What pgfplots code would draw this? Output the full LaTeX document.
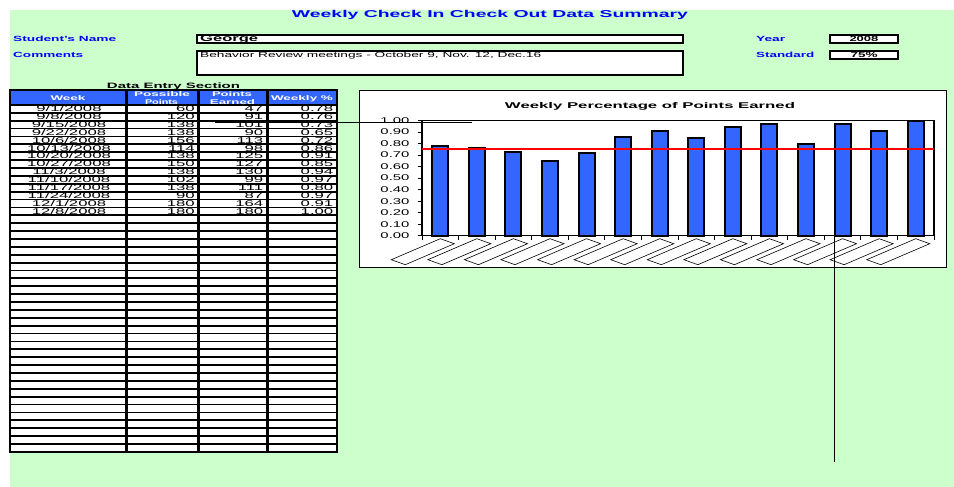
\documentclass[border=0pt]{standalone}
\usepackage{fontspec}
\setmainfont{Liberation Sans}
\usepackage{graphicx}
\usepackage{pgfplots}
\pgfplotsset{compat=1.18}
\definecolor{bg}{HTML}{CCFFCC}
\definecolor{xlblue}{HTML}{3366FF}
\definecolor{ttl}{HTML}{0000FF}
\definecolor{stdred}{HTML}{FF0000}
\newcommand\fitw[2]{\sbox0{#2}\pgfmathsetmacro\fitf{#1*1.00375/\the\wd0}\scalebox{\fitf}[1]{\usebox0}}
\newcommand\tb[1]{{\fontsize{8.4}{9}\selectfont\scalebox{2.0}[1]{#1}}}
\newcommand\pitch{7.886}
\newcommand\datarow[5]{%
  \pgfmathsetmacro\ya{104+#1*\pitch+1.8}%
  \pgfmathsetmacro\yb{104+(#1+1)*\pitch}%
  \pgfmathsetmacro\yc{104+(#1+1)*\pitch-0.3}%
  \begin{scope}
    \clip (10,\ya) rectangle (337,\yb);
    \node[anchor=base,inner sep=0] at (69,\yc) {\tb{#2}};
    \node[anchor=base east,inner sep=0] at (195,\yc) {\tb{#3}};
    \node[anchor=base east,inner sep=0] at (263.5,\yc) {\tb{#4}};
    \node[anchor=base east,inner sep=0] at (333.5,\yc) {\tb{#5}};
  \end{scope}}
\begin{document}
\begin{tikzpicture}
\path[use as bounding box] (0,0) rectangle (954bp,-487bp);
\begin{scope}[x=1bp,y=-1bp]
\fill[white] (0,0) rectangle (954,487);
\fill[bg] (10,10) rectangle (954,487);
% heading
\node[anchor=base,inner sep=0,text=ttl,font=\fontsize{10}{12}\selectfont\bfseries] at (490,17.7) {\fitw{396}{Weekly Check In Check Out Data Summary}};
\node[anchor=base west,inner sep=0,text=ttl,font=\fontsize{7.5}{9}\selectfont\bfseries] at (13,41.7) {\fitw{103}{Student's Name}};
\node[anchor=base west,inner sep=0,text=ttl,font=\fontsize{7.5}{9}\selectfont\bfseries] at (13,57.3) {\fitw{70}{Comments}};
\node[anchor=base west,inner sep=0,text=ttl,font=\fontsize{7.5}{9}\selectfont\bfseries] at (756,41.7) {\fitw{29}{Year}};
\node[anchor=base west,inner sep=0,text=ttl,font=\fontsize{7.5}{9}\selectfont\bfseries] at (756,57.3) {\fitw{58}{Standard}};
% boxes
\draw[line width=2bp,fill=white] (197,35) rectangle (683,42.7);
\node[anchor=base west,inner sep=0,font=\fontsize{9}{10}\selectfont\bfseries] at (200,41.3) {\fitw{58}{George}};
\draw[line width=2bp,fill=white] (197,51) rectangle (683,75);
\node[anchor=base west,inner sep=0,font=\fontsize{7.5}{9}\selectfont] at (200,57.3) {\fitw{341}{Behavior Review meetings - October 9, Nov. 12, Dec.16}};
\draw[line width=2bp,fill=white] (830,35) rectangle (898,42.7);
\node[anchor=base,inner sep=0,font=\fontsize{7.5}{9}\selectfont\bfseries] at (864,41.5) {\fitw{29}{2008}};
\draw[line width=2bp,fill=white] (830,51) rectangle (898,58.5);
\node[anchor=base,inner sep=0,font=\fontsize{7.5}{9}\selectfont\bfseries] at (864,57.3) {\fitw{27}{75\%}};
% table
\node[anchor=base,inner sep=0,font=\fontsize{7.8}{9}\selectfont\bfseries] at (173.5,88.3) {\fitw{133}{Data Entry Section}};
\fill[black] (9,89) rectangle (338.3,452.8);
\fill[xlblue] (11,90.8) rectangle (125,104);
\fill[xlblue] (128,90.8) rectangle (196.5,104);
\fill[xlblue] (199.5,90.8) rectangle (266,104);
\fill[xlblue] (268.5,90.8) rectangle (335.5,104);
\foreach \i in {0,...,43}{
  \pgfmathsetmacro\ya{104+\i*\pitch+1.8}
  \pgfmathsetmacro\yb{104+(\i+1)*\pitch}
  \fill[white] (11,\ya) rectangle (125,\yb);
  \fill[white] (128,\ya) rectangle (196.5,\yb);
  \fill[white] (199.5,\ya) rectangle (266,\yb);
  \fill[white] (268.5,\ya) rectangle (335.5,\yb);
}
\begin{scope}[every node/.style={inner sep=0,anchor=base,text=white,font=\fontsize{6.8}{8}\selectfont\bfseries}]
\node at (68,100.7) {\fitw{35}{Week}};
\node at (302,100.7) {\fitw{62}{Weekly \%}};
\begin{scope}
\clip (128,90.8) rectangle (266,104);
\node at (162,96) {\fitw{56}{Possible}};
\node at (161.5,104.6) {\fitw{33}{Points}};
\node at (232,96) {\fitw{40}{Points}};
\node at (232.5,104.6) {\fitw{45}{Earned}};
\end{scope}
\end{scope}
\datarow{0}{9/1/2008}{60}{47}{0.78}
\datarow{1}{9/8/2008}{120}{91}{0.76}
\datarow{2}{9/15/2008}{138}{101}{0.73}
\datarow{3}{9/22/2008}{138}{90}{0.65}
\datarow{4}{10/6/2008}{156}{113}{0.72}
\datarow{5}{10/13/2008}{114}{98}{0.86}
\datarow{6}{10/20/2008}{138}{125}{0.91}
\datarow{7}{10/27/2008}{150}{127}{0.85}
\datarow{8}{11/3/2008}{138}{130}{0.94}
\datarow{9}{11/10/2008}{102}{99}{0.97}
\datarow{10}{11/17/2008}{138}{111}{0.80}
\datarow{11}{11/24/2008}{90}{87}{0.97}
\datarow{12}{12/1/2008}{180}{164}{0.91}
\datarow{13}{12/8/2008}{180}{180}{1.00}
% chart area
\draw[line width=1.2bp,fill=white] (359.5,90.5) rectangle (946.5,267.5);
\node[anchor=base,inner sep=0,font=\fontsize{8.4}{10}\selectfont\bfseries] at (650,108.3) {\fitw{290}{Weekly Percentage of Points Earned}};
\end{scope}
\begin{axis}[
  at={(422bp,-235.7bp)}, anchor=south west,
  scale only axis, width=512bp, height=115.2bp,
  xmin=-0.5, xmax=13.5, ymin=0, ymax=1,
  clip=false,
  axis line style={line width=1.2bp},
  tick pos=left, tick align=outside,
  major tick length=4bp,
  tick style={line width=0.8bp,black},
  xtick={-0.5,0.5,...,13.5}, xticklabels={},
  ytick={0,0.1,0.2,0.3,0.4,0.5,0.6,0.7,0.8,0.9,1},
  yticklabel={\scalebox{1.78}[1]{\pgfmathprintnumber[fixed,fixed zerofill,precision=2,assume math mode=true]{\tick}}},
  yticklabel style={font=\fontsize{8.4}{9}\selectfont, xshift=-5bp},
]
\addplot[ybar, bar width=16bp, fill=xlblue, draw=black, line width=2bp]
  coordinates {(0,0.78) (1,0.76) (2,0.73) (3,0.65) (4,0.72) (5,0.86) (6,0.91)
               (7,0.85) (8,0.94) (9,0.97) (10,0.80) (11,0.97) (12,0.91) (13,1.00)};
\addplot[sharp plot, mark=none, draw=stdred, color=stdred, line width=2bp] coordinates {(-0.5,0.75) (13.5,0.75)};
\pgfplotsinvokeforeach{0,...,13}{
  \draw[fill=white, line width=0.6bp] ([yshift=-3bp]axis cs:#1,0) -- ++(14bp,-5bp) -- ++(-49bp,-21bp) -- ++(-14bp,5bp) -- cycle;
}
\end{axis}
\begin{scope}[x=1bp,y=-1bp]
\draw[line width=0.8bp] (215,122.3) -- (472,122.3);
\draw[line width=0.8bp] (834,237) -- (834,462);
\end{scope}
\end{tikzpicture}
\end{document}
